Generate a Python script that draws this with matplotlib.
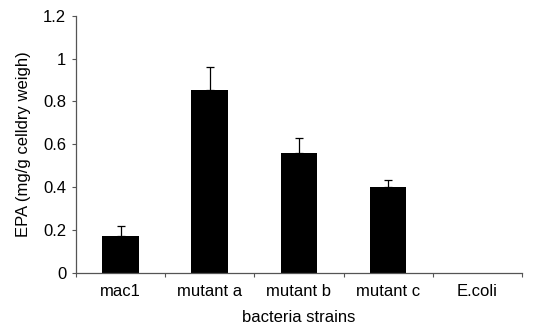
import matplotlib
matplotlib.use("Agg")
import matplotlib.pyplot as plt
import numpy as np

plt.rcParams['font.family'] = ['Liberation Sans', 'DejaVu Sans']

categories = ["mac1", "mutant a", "mutant b", "mutant c", "E.coli"]
values = [0.172, 0.852, 0.56, 0.402, 0.0]
errors = [0.048, 0.109, 0.068, 0.031, 0.0]
yticks = [0, 0.2, 0.4, 0.6, 0.8, 1.0, 1.2]
ytick_labels = ["0", "0.2", "0.4", "0.6", "0.8", "1", "1.2"]

FS = 12

fig = plt.figure(figsize=(5.42, 3.28), dpi=100)
ax = fig.add_axes([0.1402, 0.1686, 0.963 - 0.1402, 0.952 - 0.1686])

x = np.arange(len(categories))
ax.bar(x, values, width=0.41, color="black", linewidth=0, zorder=2)
has_err = [i for i, e in enumerate(errors) if e > 0]
ax.errorbar([x[i] for i in has_err], [values[i] for i in has_err],
            yerr=[[0] * len(has_err), [errors[i] for i in has_err]], fmt="none",
            ecolor="black", elinewidth=0.9, capsize=3, capthick=0.9, zorder=3)

ax.set_xlim(-0.5, len(categories) - 0.5)
ax.set_ylim(0, 1.2)
ax.set_yticks(yticks)
ax.set_yticklabels(ytick_labels, fontsize=FS)
ax.set_xticks(np.arange(len(categories) + 1) - 0.5, minor=False)
ax.set_xticklabels([])
ax.set_xticks(x, minor=True)
ax.set_xticklabels(categories, minor=True, fontsize=FS)
ax.tick_params(axis="x", which="minor", length=0, pad=8)
ax.tick_params(axis="x", which="major", length=3, width=0.8, color="#555555")
ax.tick_params(axis="y", length=3, width=0.8, color="#555555", pad=4)

for s in ["top", "right"]:
    ax.spines[s].set_visible(False)
for s in ["left", "bottom"]:
    ax.spines[s].set_color("#555555")
    ax.spines[s].set_linewidth(0.9)

ax.set_xlabel("bacteria strains", fontsize=FS, labelpad=8)
ax.set_ylabel("EPA (mg/g celldry weigh)", fontsize=FS, labelpad=9)

fig.savefig("out.png", dpi=100)
